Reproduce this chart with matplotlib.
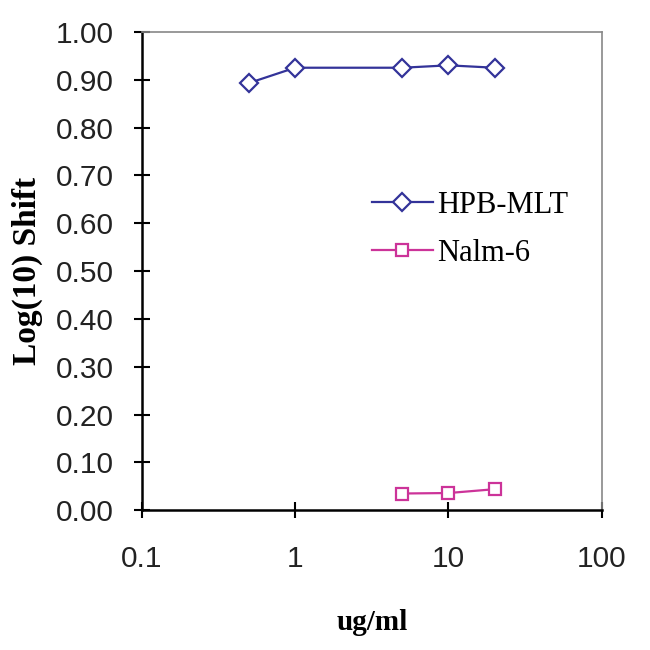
import matplotlib
matplotlib.use("Agg")
import matplotlib.pyplot as plt
from matplotlib.ticker import FixedLocator, NullLocator

# data
conc_hpb = [0.5, 1, 5, 10, 20]
shift_hpb = [0.893, 0.925, 0.925, 0.930, 0.925]
conc_nalm = [5, 10, 20]
shift_nalm = [0.035, 0.036, 0.044]

xticks = [0.1, 1, 10, 100]
xlabels = ["0.1", "1", "10", "100"]
yticks = [i / 10 for i in range(11)]
ylabels = ["%.2f" % v for v in yticks]

fig = plt.figure(figsize=(6.5, 6.5), dpi=100)
ax = fig.add_axes([0.218, 0.215, 0.708, 0.736])

ax.plot(conc_hpb, shift_hpb, color="#333399", lw=1.6, marker="D",
        markersize=9, markerfacecolor="white", markeredgecolor="#333399",
        markeredgewidth=1.6, label="HPB-MLT")
ax.plot(conc_nalm, shift_nalm, color="#cc3399", lw=1.6, marker="s",
        markersize=9, markerfacecolor="white", markeredgecolor="#cc3399",
        markeredgewidth=1.6, label="Nalm-6")

ax.set_xscale("log")
ax.set_xlim(0.1, 100)
ax.set_ylim(0, 1.0)
ax.xaxis.set_major_locator(FixedLocator(xticks))
ax.xaxis.set_minor_locator(NullLocator())
ax.set_xticklabels(xlabels)
ax.set_yticks(yticks)
ax.set_yticklabels(ylabels)

for s in ["left", "bottom"]:
    ax.spines[s].set_linewidth(1.8)
    ax.spines[s].set_color("black")
for s in ["top", "right"]:
    ax.spines[s].set_linewidth(1.2)
    ax.spines[s].set_color("#888888")

ax.tick_params(axis="both", direction="inout", length=12, width=1.5,
               labelsize=21.5, colors="black", labelcolor="#222222")
ax.tick_params(axis="x", pad=19)
ax.tick_params(axis="y", pad=14)
for lab in ax.get_xticklabels() + ax.get_yticklabels():
    lab.set_family("Liberation Sans")

ax.set_xlabel("ug/ml", family="Liberation Serif", fontweight="bold",
              fontsize=21, labelpad=26)
ax.set_ylabel("Log(10) Shift", family="Liberation Serif", fontweight="bold",
              fontsize=24, labelpad=9)

ax.legend(loc="upper left", bbox_to_anchor=(0.44, 0.725), frameon=False,
          prop={"family": "Liberation Serif", "size": 22},
          handlelength=2.0, handletextpad=0.15, labelspacing=0.62)

fig.savefig("out.png", dpi=100)
